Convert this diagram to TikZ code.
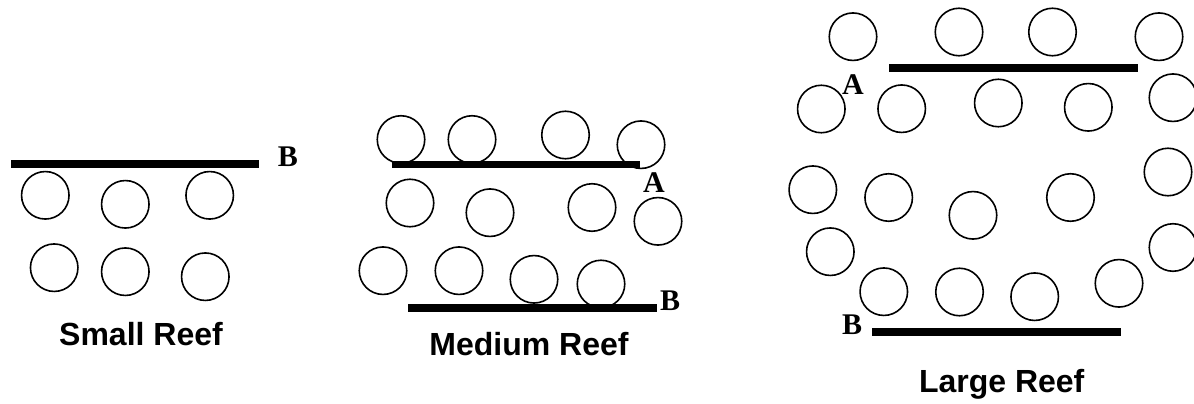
\documentclass[tikz,border=0pt]{standalone}
\usepackage{fontspec}
\setmainfont{Liberation Serif}
\setsansfont{Liberation Sans}
\begin{document}
\begin{tikzpicture}[x=1pt,y=-1pt,
  reefc/.style={circle,draw,line width=1.6pt,minimum size=47.5pt,inner sep=0pt},
  bar/.style={line width=7.3pt},
  lbl/.style={font=\fontsize{30}{30}\selectfont\bfseries,inner sep=0pt},
  title/.style={font=\fontsize{32}{32}\sffamily\bfseries,inner sep=0pt,anchor=base}]
\useasboundingbox (0,0) rectangle (1194,404);
\clip (0,0) rectangle (1194,404);
% ---------- Small reef
\coordinate (sbl) at (11,164); \coordinate (sbr) at (259,164);
\draw[bar] (sbl) -- (sbr);
\node[lbl] (sB) at (288,157) {B};
\node[reefc] (s1) at (45.3,195.3) {};
\node[reefc] (s2) at (125.3,204.3) {};
\node[reefc] (s3) at (209.7,195.3) {};
\node[reefc] (s4) at (54.2,267.7) {};
\node[reefc] (s5) at (125.3,271.7) {};
\node[reefc] (s6) at (205.3,276.7) {};
\node[title] (st) at (141,345) {Small Reef};
% ---------- Medium reef
\coordinate (mtl) at (391.7,164.5); \coordinate (mtr) at (640,164.5);
\coordinate (mbl) at (408.3,308); \coordinate (mbr) at (656.7,308);
\draw[bar] (mtl) -- (mtr);
\draw[bar] (mbl) -- (mbr);
\node[lbl] (mA) at (654,183) {A};
\node[lbl] (mB) at (670,301) {B};
\node[reefc] (m1) at (401,139.5) {};
\node[reefc] (m2) at (472,139.5) {};
\node[reefc] (m3) at (565.5,135) {};
\node[reefc] (m4) at (641,144.7) {};
\node[reefc] (m5) at (410,203) {};
\node[reefc] (m6) at (490,212.7) {};
\node[reefc] (m7) at (592,207.5) {};
\node[reefc] (m8) at (658,221.3) {};
\node[reefc] (m9) at (383,270.7) {};
\node[reefc] (m10) at (459,270.7) {};
\node[reefc] (m11) at (534,279.3) {};
\node[reefc] (m12) at (601,284) {};
\node[title] (mt) at (529,355) {Medium Reef};
% ---------- Large reef
\coordinate (ltl) at (889,68); \coordinate (ltr) at (1137.7,68);
\coordinate (lbl) at (872.3,332); \coordinate (lbr) at (1121,332);
\draw[bar] (ltl) -- (ltr);
\draw[bar] (lbl) -- (lbr);
\node[lbl] (lA) at (853,85) {A};
\node[lbl] (lB) at (852,325) {B};
\node[reefc] (t1) at (853,36.7) {};
\node[reefc] (t2) at (959,32) {};
\node[reefc] (t3) at (1052.5,32) {};
\node[reefc] (t4) at (1159,36.7) {};
\node[reefc] (u1) at (821.3,109) {};
\node[reefc] (u2) at (901.7,108.7) {};
\node[reefc] (u3) at (998.3,103) {};
\node[reefc] (u4) at (1088.3,107.3) {};
\node[reefc] (u5) at (1173,97.7) {};
\node[reefc] (v1) at (812.8,189.7) {};
\node[reefc] (v2) at (888.7,197.5) {};
\node[reefc] (v3) at (973,215.3) {};
\node[reefc] (v4) at (1070.5,197.5) {};
\node[reefc] (v5) at (1168,172) {};
\node[reefc] (w1) at (830.3,251.7) {};
\node[reefc] (w2) at (1173,247.5) {};
\node[reefc] (z1) at (883.8,291.7) {};
\node[reefc] (z2) at (959.5,292) {};
\node[reefc] (z3) at (1034.7,296.7) {};
\node[reefc] (z4) at (1119,283.3) {};
\node[title] (lt) at (1001.7,392) {Large Reef};
\end{tikzpicture}
\end{document}
